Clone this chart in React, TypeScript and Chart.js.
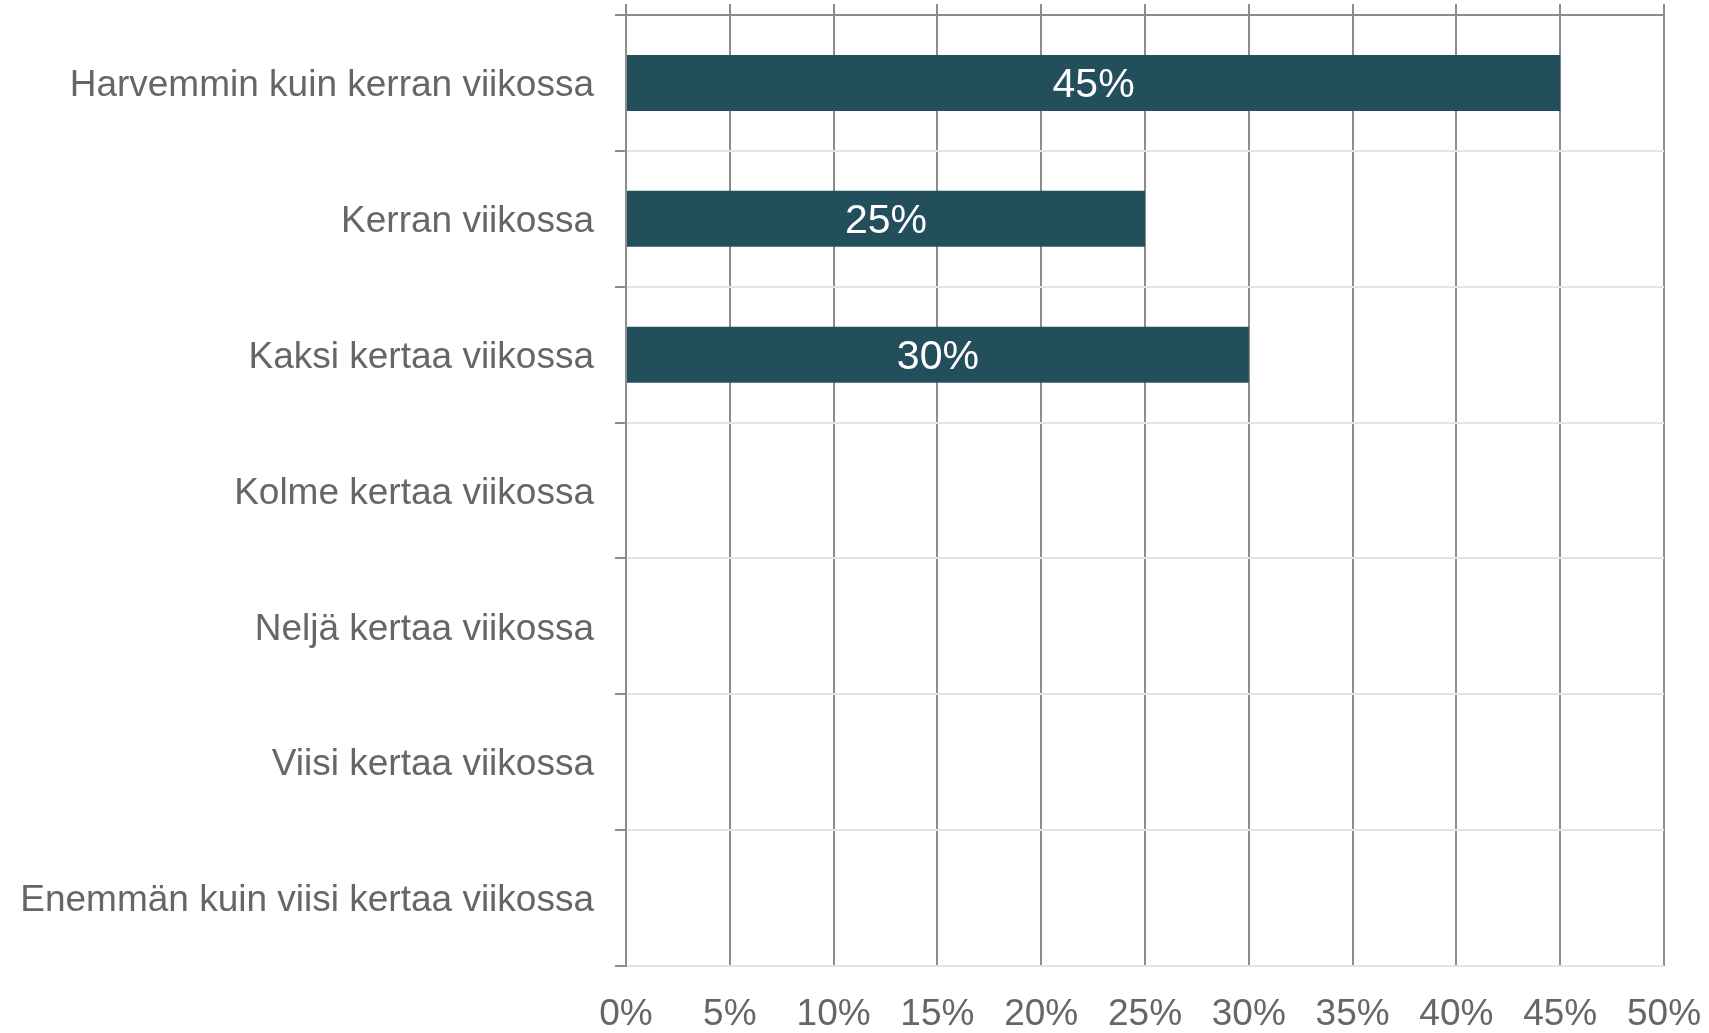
import React, { useEffect, useRef } from "react";
import { Chart, registerables } from "chart.js";

Chart.register(...registerables);

const categories: string[] = [
  "Harvemmin kuin kerran viikossa",
  "Kerran viikossa",
  "Kaksi kertaa viikossa",
  "Kolme kertaa viikossa",
  "Neljä kertaa viikossa",
  "Viisi kertaa viikossa",
  "Enemmän kuin viisi kertaa viikossa",
];
const values: number[] = [45, 25, 30, 0, 0, 0, 0];
const xMin = 0;
const xMax = 50;
const xStep = 5;

const FONT = "'Liberation Sans', Arial, sans-serif";
const DARK = "#8c8c8c";
const LIGHT = "#e3e3e3";
const TEXT = "#666666";
const BAR = "#234e5c";

const barLabelPlugin = {
  id: "barLabels",
  afterDatasetsDraw(chart: any) {
    const ctx = chart.ctx;
    const meta = chart.getDatasetMeta(0);
    ctx.save();
    ctx.fillStyle = "#ffffff";
    ctx.font = `41px ${FONT}`;
    ctx.textAlign = "center";
    ctx.textBaseline = "middle";
    meta.data.forEach((el: any, i: number) => {
      const v = values[i];
      if (!v) return;
      const cx = (el.x + el.base) / 2;
      ctx.fillText(`${v}%`, cx, el.y + 3);
    });
    ctx.restore();
  },
};

export default function App() {
  const ref = useRef<HTMLCanvasElement | null>(null);
  useEffect(() => {
    if (!ref.current) return;
    const chart = new Chart(ref.current, {
      type: "bar",
      data: {
        labels: categories,
        datasets: [
          {
            data: values,
            backgroundColor: BAR,
            borderWidth: 0,
            barPercentage: 0.412,
            categoryPercentage: 1,
          },
        ],
      },
      plugins: [barLabelPlugin],
      options: {
        indexAxis: "y",
        animation: false,
        responsive: false,
        devicePixelRatio: 1,
        layout: { padding: { top: 4, right: 45, bottom: 0, left: 0 } },
        plugins: {
          legend: { display: false },
          tooltip: { enabled: false },
        },
        scales: {
          x: {
            type: "linear",
            position: "bottom",
            min: xMin,
            max: xMax,
            grid: {
              color: DARK,
              lineWidth: 2,
              drawTicks: false,
            },
            border: { display: false },
            ticks: {
              stepSize: xStep,
              padding: 27,
              color: TEXT,
              font: { family: FONT, size: 37 },
              callback: (v: any) => `${v}%`,
            },
            afterFit: (s: any) => {
              s.paddingLeft = 0;
              s.paddingRight = 0;
              s.height = 67;
            },
          },
          x2: {
            type: "linear",
            axis: "x",
            position: "top",
            min: xMin,
            max: xMax,
            grid: {
              drawOnChartArea: false,
              drawTicks: true,
              tickLength: 11,
              color: DARK,
              lineWidth: 2,
            },
            border: { display: true, color: DARK, width: 2 },
            ticks: { stepSize: xStep, display: false },
            afterFit: (s: any) => {
              s.paddingLeft = 0;
              s.paddingRight = 0;
            },
          },
          y: {
            type: "category",
            position: "left",
            offset: true,
            grid: {
              offset: true,
              color: (c: any) => (c.index === 0 ? DARK : LIGHT),
              tickColor: DARK,
              lineWidth: 2,
              tickLength: 11,
              drawTicks: true,
            },
            border: { display: true, color: DARK, width: 2 },
            ticks: {
              padding: 21,
              labelOffset: 3,
              color: TEXT,
              font: { family: FONT, size: 37 },
            },
            afterFit: (s: any) => {
              s.width = 626;
              s.paddingTop = 0;
              s.paddingBottom = 0;
            },
          },
        },
      },
    } as any);
    return () => chart.destroy();
  }, []);
  return (
    <div style={{ position: "absolute", left: 0, top: 0, width: 1709, height: 1033 }}>
      <canvas ref={ref} width={1709} height={1033} style={{ display: "block" }} />
    </div>
  );
}
